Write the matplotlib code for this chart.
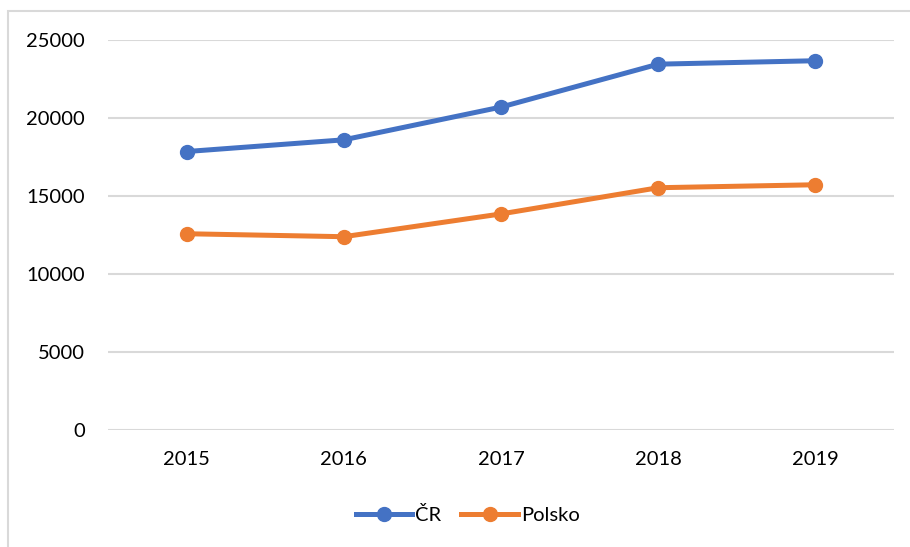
import matplotlib.pyplot as plt
from matplotlib.patches import Rectangle

# Data
years = ['2015', '2016', '2017', '2018', '2019']
cr = [17850, 18600, 20700, 23450, 23670]
polsko = [12580, 12390, 13850, 15530, 15720]

plt.rcParams['font.family'] = ['Lato', 'DejaVu Sans']

fig = plt.figure(figsize=(9.1, 5.47), dpi=100)
ax = fig.add_axes([0.1187, 0.2139, 0.8637, 0.713])

# chart border (Excel style, partially cropped)
fig.patches.append(Rectangle((8 / 910, -0.2), 1.2, 1.2 - 11 / 547,
                             transform=fig.transFigure, fill=False,
                             edgecolor='#D9D9D9', linewidth=1.5))

x = range(len(years))
ax.plot(x, cr, '-o', color='#4472C4', lw=3.6, ms=10, label='ČR')
ax.plot(x, polsko, '-o', color='#ED7D31', lw=3.6, ms=10, label='Polsko')

ax.set_xlim(-0.5, len(years) - 0.5)
ax.set_ylim(0, 25000)
ax.set_yticks(range(0, 25001, 5000))
ax.set_xticks(list(x))
ax.set_xticklabels(years)
ax.grid(axis='y', color='#D9D9D9', lw=1.5)
ax.set_axisbelow(True)
for s in ax.spines.values():
    s.set_visible(False)
ax.tick_params(length=0, labelsize=14.5, colors='#000000')
ax.tick_params(axis='y', pad=16.5)
ax.tick_params(axis='x', pad=15)

fig.legend(loc='center', bbox_to_anchor=(0.514, 0.058), ncol=2, frameon=False,
           fontsize=14.5, handlelength=2.8, handletextpad=0.15, columnspacing=1.0)

fig.savefig('out.png', dpi=100)
